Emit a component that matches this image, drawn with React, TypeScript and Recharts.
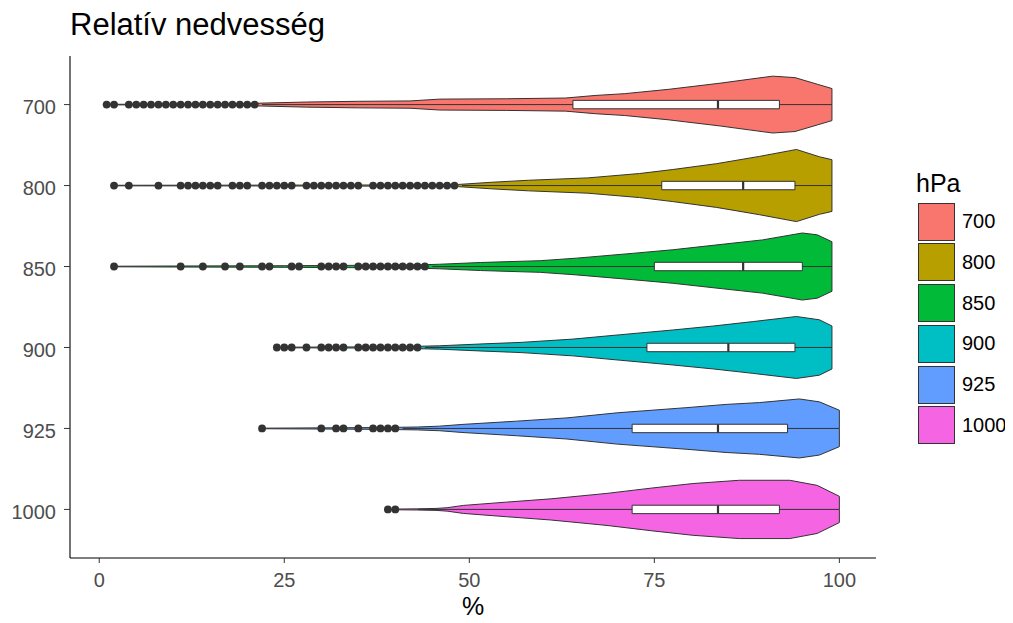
import React from 'react';
import {
  Area,
  ComposedChart,
  ReferenceArea,
  ReferenceLine,
  Scatter,
  XAxis,
  YAxis,
} from 'recharts';

const categories = ['700', '800', '850', '900', '925', '1000'];
const colors = ['#F8766D', '#B79F00', '#00BA38', '#00BFC4', '#619CFF', '#F564E3'];
const xTicks = [0, 25, 50, 75, 100];

// violin outlines: [relative humidity %, relative density]
const dens700 = [
  [1, 0.008], [10, 0.011], [18, 0.02], [22, 0.04], [28, 0.07], [35, 0.09], [42, 0.1],
  [46, 0.15], [55, 0.16], [63, 0.18], [67, 0.25], [71, 0.3], [77, 0.42], [84, 0.59],
  [88, 0.7], [91, 0.78], [94, 0.74], [97, 0.56], [99, 0.44],
];
const dens800 = [
  [2, 0.008], [20, 0.011], [40, 0.016], [48.5, 0.03], [53, 0.09], [58, 0.145], [66, 0.21],
  [73, 0.33], [77.5, 0.44], [83.4, 0.6], [89.2, 0.8], [94.2, 0.99], [97.3, 0.79], [99, 0.71],
];
const dens850 = [
  [2, 0.008], [10, 0.014], [25, 0.022], [38, 0.036], [44, 0.05], [46, 0.063], [51.5, 0.11],
  [59.6, 0.16], [64.5, 0.23], [72, 0.36], [77.5, 0.46], [84.2, 0.61], [89.6, 0.73],
  [95, 0.92], [97, 0.87], [99, 0.68],
];
const dens900 = [
  [24, 0.008], [35, 0.016], [43, 0.033], [46, 0.047], [52, 0.1], [57, 0.14], [64, 0.23],
  [70.4, 0.35], [77.5, 0.48], [83, 0.59], [88.3, 0.71], [94.2, 0.85], [97.3, 0.76], [99, 0.59],
];
const dens925 = [
  [22, 0.008], [30, 0.016], [38, 0.025], [43, 0.04], [46, 0.063], [49, 0.11], [56.4, 0.2],
  [63.2, 0.29], [70, 0.43], [79.3, 0.57], [84.7, 0.66], [89.2, 0.71], [94.6, 0.81],
  [97.3, 0.73], [100, 0.5],
];
const dens1000 = [
  [39, 0.008], [43, 0.016], [45.5, 0.027], [47, 0.047], [49.2, 0.11], [55, 0.2], [61, 0.29],
  [68.6, 0.44], [74.8, 0.59], [80.2, 0.71], [86.5, 0.8], [93.3, 0.8], [97, 0.66], [100, 0.36],
];
const densities = [dens700, dens800, dens850, dens900, dens925, dens1000];

// boxplot stats: [lower whisker, Q1, median, Q3, upper whisker]
const boxStats = [
  [22, 64, 83.6, 91.9, 99],
  [49, 76, 87, 94, 99],
  [45, 75, 87, 95, 99],
  [44, 74, 85, 94, 99],
  [41, 72, 83.6, 93, 100],
  [43, 72, 83.6, 91.9, 100],
];

const outliers700 = [1, 2, 4, 5, 6, 7, 8, 9, 10, 11, 12, 13, 14, 15, 16, 17, 18, 19, 20, 21];
const outliers800 = [
  2, 4, 8, 11, 12, 13, 14, 15, 16, 18, 19, 20, 22, 23, 24, 25, 26, 28, 29, 30, 31, 32, 33, 34,
  35, 37, 38, 39, 40, 41, 42, 43, 44, 45, 46, 47, 48,
];
const outliers850 = [
  2, 11, 14, 17, 19, 22, 23, 26, 27, 30, 31, 32, 33, 35, 36, 37, 38, 39, 40, 41, 42, 43, 44,
];
const outliers900 = [24, 25, 26, 28, 30, 31, 32, 33, 35, 36, 37, 38, 39, 40, 41, 42, 43];
const outliers925 = [22, 30, 32, 33, 35, 37, 38, 39, 40];
const outliers1000 = [39, 40];
const outliers = [outliers700, outliers800, outliers850, outliers900, outliers925, outliers1000];

const HALF = 0.45;
const BOX = 0.052;
const OUTLINE = '#333333';
const FONT = '"Liberation Sans", Arial, sans-serif';

const violinData = densities.map((d, i) => {
  const c = i + 1;
  const pts = d.map(([x, w]) => ({ x, range: [c - w * HALF, c + w * HALF] }));
  const last = d[d.length - 1][0];
  pts.push({ x: last, range: [c, c] });
  return pts;
});

const outlierData = outliers.map((o, i) => o.map((x) => ({ x, y: i + 1 })));

const Dot = (props: any) => <circle cx={props.cx} cy={props.cy} r={3.9} fill={OUTLINE} />;

export default function App() {
  return (
    <div style={{ position: 'relative', width: 997, height: 607, fontFamily: FONT }}>
      <div
        style={{
          position: 'absolute', left: 62, top: 1, fontSize: 31, lineHeight: 1, color: '#000',
        }}
      >
        Relatív nedvesség
      </div>
      <ComposedChart
        width={997}
        height={607}
        margin={{ top: 48, right: 129, bottom: 0, left: 0 }}
        style={{ fontFamily: FONT }}
      >
        <XAxis
          type="number"
          dataKey="x"
          domain={[-3.95, 104.95]}
          ticks={xTicks}
          allowDataOverflow
          height={57}
          tickSize={5}
          tickMargin={10}
          axisLine={{ stroke: '#000', strokeWidth: 1.1 }}
          tickLine={{ stroke: OUTLINE }}
          tick={{ fill: '#4D4D4D', fontSize: 20 }}
        />
        <YAxis
          type="number"
          dataKey="y"
          domain={[0.4, 6.6]}
          reversed
          ticks={[1, 2, 3, 4, 5, 6]}
          tickFormatter={(v: number) => categories[v - 1]}
          allowDataOverflow
          width={62}
          tickSize={6}
          tickMargin={8}
          axisLine={{ stroke: '#000', strokeWidth: 1.1 }}
          tickLine={{ stroke: OUTLINE }}
          tick={{ fill: '#4D4D4D', fontSize: 20, dy: 2 }}
        />
        {violinData.map((d, i) => (
          <Area
            key={'v' + i}
            data={d}
            dataKey="range"
            type="linear"
            fill={colors[i]}
            fillOpacity={1}
            stroke={OUTLINE}
            strokeWidth={1}
            dot={false}
            activeDot={false}
            isAnimationActive={false}
          />
        ))}
        {boxStats.map((b, i) => (
          <ReferenceLine
            key={'wl' + i}
            segment={[{ x: b[0], y: i + 1 }, { x: b[1], y: i + 1 }]}
            stroke={OUTLINE}
            strokeWidth={1}
            ifOverflow="visible"
          />
        ))}
        {boxStats.map((b, i) => (
          <ReferenceLine
            key={'wh' + i}
            segment={[{ x: b[3], y: i + 1 }, { x: b[4], y: i + 1 }]}
            stroke={OUTLINE}
            strokeWidth={1}
            ifOverflow="visible"
          />
        ))}
        {boxStats.map((b, i) => (
          <ReferenceArea
            key={'b' + i}
            x1={b[1]}
            x2={b[3]}
            y1={i + 1 - BOX}
            y2={i + 1 + BOX}
            fill="#FFFFFF"
            fillOpacity={1}
            stroke={OUTLINE}
            strokeWidth={1}
            ifOverflow="visible"
          />
        ))}
        {boxStats.map((b, i) => (
          <ReferenceLine
            key={'m' + i}
            segment={[{ x: b[2], y: i + 1 - BOX }, { x: b[2], y: i + 1 + BOX }]}
            stroke={OUTLINE}
            strokeWidth={2.2}
            ifOverflow="visible"
          />
        ))}
        {outlierData.map((d, i) => (
          <Scatter key={'o' + i} data={d} shape={Dot} isAnimationActive={false} />
        ))}
      </ComposedChart>
      <div
        style={{
          position: 'absolute',
          left: 62,
          width: 806,
          top: 586,
          textAlign: 'center',
          fontSize: 25,
          lineHeight: 1,
          color: '#000',
        }}
      >
        %
      </div>
      <div
        style={{
          position: 'absolute', left: 908, top: 163, fontSize: 25, lineHeight: 1, color: '#000',
        }}
      >
        hPa
      </div>
      {categories.map((c, i) => (
        <div
          key={c}
          style={{
            position: 'absolute',
            left: 910,
            top: 194.7 + i * 40.7,
            height: 38,
            display: 'flex',
            alignItems: 'center',
          }}
        >
          <div
            style={{
              width: 37,
              height: 38,
              boxSizing: 'border-box',
              border: '1px solid ' + OUTLINE,
              background: colors[i],
            }}
          />
          <span style={{ marginLeft: 7, fontSize: 20, color: '#000' }}>{c}</span>
        </div>
      ))}
    </div>
  );
}
